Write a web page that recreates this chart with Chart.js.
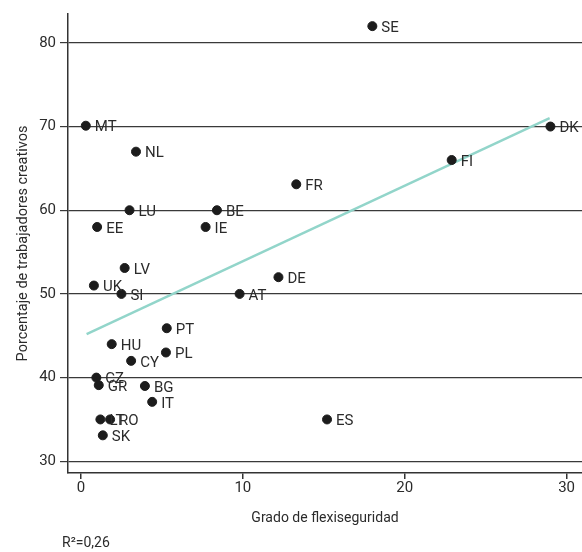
<!DOCTYPE html>
<html>
<head>
<meta charset="utf-8">
<script src="https://cdn.jsdelivr.net/npm/chart.js@4/dist/chart.umd.min.js"></script>
<style>
  html, body { margin: 0; padding: 0; background: #ffffff; }
  #wrap { width: 582px; height: 552px; position: relative; }
</style>
</head>
<body>
<div id="wrap"><canvas id="c" width="582" height="552"></canvas></div>
<script>
// Country codes and their values
const countries = ['SE','MT','NL','FR','DK','FI','LU','BE','EE','IE','LV','UK','SI','DE','AT','PT','HU','PL','CY','CZ','GR','BG','IT','LT','RO','SK','ES'];
const flexicurity = [18.0, 0.3, 3.4, 13.3, 29.0, 22.9, 3.0, 8.4, 1.0, 7.7, 2.7, 0.8, 2.5, 12.2, 9.8, 5.3, 1.9, 5.25, 3.1, 0.95, 1.1, 3.95, 4.4, 1.2, 1.8, 1.35, 15.2];
const creativeShare = [82.0, 70.1, 67.0, 63.1, 70.0, 66.0, 60.0, 60.0, 58.0, 58.0, 53.1, 51.0, 50.0, 52.0, 50.0, 45.9, 44.0, 43.0, 42.0, 40.0, 39.1, 39.0, 37.1, 35.0, 35.0, 33.1, 35.0];

// Fitted trend line end points
const trendX = [0.35, 28.95];
const trendY = [45.2, 71.0];

// Axis ticks
const xTicks = [0, 10, 20, 30];
const yTicks = [30, 40, 50, 60, 70, 80];

const xTitle = 'Grado de flexiseguridad';
const yTitle = 'Porcentaje de trabajadores creativos';
const rSquared = 'R²=0,26';

const FONT = 'Roboto, "Liberation Sans", sans-serif';
const TEXT = '#2b2b2b';

const pointLabels = {
  id: 'pointLabels',
  afterDatasetsDraw(chart) {
    const meta = chart.getDatasetMeta(0);
    const ctx = chart.ctx;
    ctx.save();
    ctx.font = '15px ' + FONT;
    ctx.fillStyle = TEXT;
    ctx.textBaseline = 'middle';
    ctx.textAlign = 'left';
    meta.data.forEach((pt, i) => {
      ctx.fillText(countries[i], pt.x + 9, pt.y + 2);
    });
    ctx.restore();
  }
};

const footNote = {
  id: 'footNote',
  afterDraw(chart) {
    const ctx = chart.ctx;
    ctx.save();
    ctx.font = '14px ' + FONT;
    ctx.fillStyle = TEXT;
    ctx.textBaseline = 'middle';
    ctx.textAlign = 'left';
    ctx.fillText(rSquared, 62, 543);
    ctx.restore();
  }
};

new Chart(document.getElementById('c'), {
  data: {
    datasets: [
      {
        type: 'scatter',
        order: 0,
        data: flexicurity.map((x, i) => ({ x, y: creativeShare[i] })),
        backgroundColor: '#1c1c1c',
        borderColor: '#1c1c1c',
        pointRadius: 4.5,
        pointHoverRadius: 4.5
      },
      {
        type: 'line',
        order: 1,
        data: trendX.map((x, i) => ({ x, y: trendY[i] })),
        borderColor: '#92d5ca',
        borderWidth: 2.5,
        pointRadius: 0,
        fill: false
      }
    ]
  },
  options: {
    responsive: false,
    animation: false,
    layout: { autoPadding: false, padding: { left: 0, right: 0, top: 14, bottom: 0 } },
    plugins: {
      legend: { display: false },
      tooltip: { enabled: false }
    },
    scales: {
      x: {
        type: 'linear',
        min: -0.8,
        max: 30.95,
        afterBuildTicks(scale) { scale.ticks = xTicks.map(v => ({ value: v })); },
        afterFit(scale) { scale.height = 79; scale.paddingRight = 0; scale.paddingLeft = 0; },
        grid: {
          drawOnChartArea: false,
          drawTicks: true,
          tickLength: 6,
          color: '#333333',
          lineWidth: 1.5
        },
        border: { color: '#333333', width: 1.5 },
        ticks: {
          color: TEXT,
          font: { family: FONT, size: 15 },
          padding: 0,
          maxRotation: 0
        },
        title: {
          display: true,
          text: xTitle,
          color: TEXT,
          font: { family: FONT, size: 14 },
          padding: { top: 0, bottom: 25 }
        }
      },
      y: {
        type: 'linear',
        min: 28.6,
        max: 83.45,
        afterBuildTicks(scale) { scale.ticks = yTicks.map(v => ({ value: v })); },
        afterFit(scale) { scale.width = 68; scale.paddingTop = 0; scale.paddingBottom = 0; },
        grid: {
          drawOnChartArea: true,
          drawTicks: true,
          tickLength: 8,
          color: '#3a3a3a',
          lineWidth: 1.2
        },
        border: { color: '#333333', width: 1.5 },
        ticks: {
          color: TEXT,
          font: { family: FONT, size: 15 },
          padding: 4
        },
        title: {
          display: true,
          text: yTitle,
          color: TEXT,
          font: { family: FONT, size: 14.5 },
          padding: { top: 15, bottom: 0 }
        }
      }
    }
  },
  plugins: [pointLabels, footNote]
});
</script>
</body>
</html>
